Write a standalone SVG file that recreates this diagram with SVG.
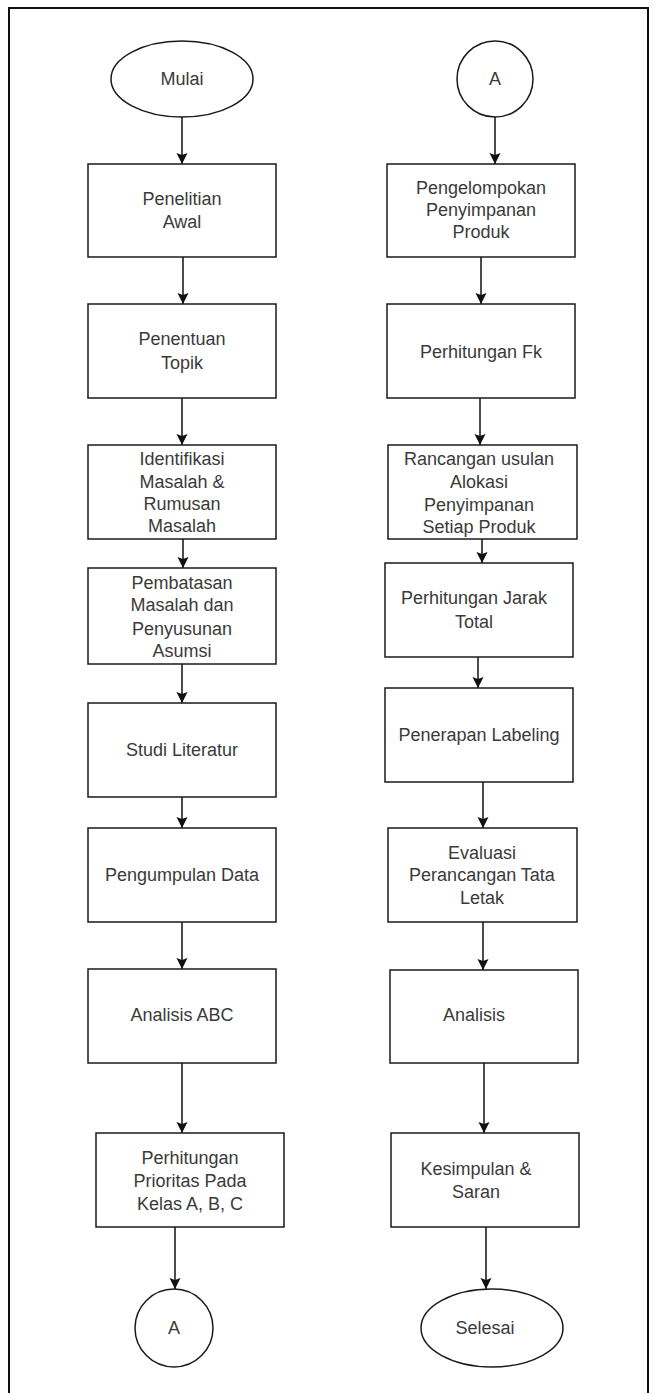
<svg xmlns="http://www.w3.org/2000/svg" width="656" height="1393" viewBox="0 0 656 1393">
<style>
.shape{fill:#fff;stroke:#1a1a1a;stroke-width:1.5}
.lbl{font-family:"Liberation Sans",Arial,sans-serif;font-size:18px;fill:#3a3a3a;text-anchor:middle}
.conn{stroke:#111;stroke-width:1.5;fill:none;marker-end:url(#arr)}
</style>
<defs>
<marker id="arr" markerUnits="userSpaceOnUse" markerWidth="12" markerHeight="12" refX="11" refY="5.5" orient="auto" viewBox="0 0 12 11">
<path d="M0,0 L11,5.5 L0,11 L2,5.5 z" fill="#111"/>
</marker>
</defs>
<rect x="0" y="0" width="656" height="1393" fill="#fff"/>
<rect x="9" y="8" width="639" height="1400" fill="none" stroke="#111" stroke-width="2"/>

<g id="connectors">
<line class="conn" x1="182" y1="117" x2="182" y2="164"/>
<line class="conn" x1="183" y1="257" x2="183" y2="304"/>
<line class="conn" x1="182" y1="398" x2="182" y2="445"/>
<line class="conn" x1="183" y1="539" x2="183" y2="568"/>
<line class="conn" x1="182" y1="664" x2="182" y2="703"/>
<line class="conn" x1="182" y1="797" x2="182" y2="828"/>
<line class="conn" x1="182" y1="922" x2="182" y2="969"/>
<line class="conn" x1="182" y1="1063" x2="182" y2="1133"/>
<line class="conn" x1="175" y1="1227" x2="175" y2="1289"/>
<line class="conn" x1="495" y1="117" x2="495" y2="164"/>
<line class="conn" x1="481" y1="257" x2="481" y2="304"/>
<line class="conn" x1="480" y1="398" x2="480" y2="445"/>
<line class="conn" x1="482" y1="539" x2="482" y2="563"/>
<line class="conn" x1="478" y1="650" x2="478" y2="688"/>
<line class="conn" x1="483" y1="782" x2="483" y2="828"/>
<line class="conn" x1="483" y1="922" x2="483" y2="970"/>
<line class="conn" x1="484" y1="1063" x2="484" y2="1133"/>
<line class="conn" x1="486" y1="1227" x2="486" y2="1289"/>
</g>

<g id="mulai">
<ellipse class="shape" cx="182" cy="79" rx="71" ry="38"/>
<text class="lbl" x="182" y="85">Mulai</text>
</g>
<g id="penelitian-awal">
<rect class="shape" x="88" y="164" width="188" height="93"/>
<text class="lbl" x="182" y="205">Penelitian</text>
<text class="lbl" x="182" y="228">Awal</text>
</g>
<g id="penentuan-topik">
<rect class="shape" x="88" y="304" width="188" height="94"/>
<text class="lbl" x="182" y="345">Penentuan</text>
<text class="lbl" x="182" y="369">Topik</text>
</g>
<g id="identifikasi">
<rect class="shape" x="88" y="445" width="188" height="94"/>
<text class="lbl" x="182" y="465">Identifikasi</text>
<text class="lbl" x="182" y="488">Masalah &amp;</text>
<text class="lbl" x="182" y="510">Rumusan</text>
<text class="lbl" x="182" y="532">Masalah</text>
</g>
<g id="pembatasan">
<rect class="shape" x="88" y="568" width="188" height="96"/>
<text class="lbl" x="182" y="589">Pembatasan</text>
<text class="lbl" x="182" y="611">Masalah dan</text>
<text class="lbl" x="182" y="635">Penyusunan</text>
<text class="lbl" x="182" y="657">Asumsi</text>
</g>
<g id="studi-literatur">
<rect class="shape" x="88" y="703" width="188" height="94"/>
<text class="lbl" x="182" y="756">Studi Literatur</text>
</g>
<g id="pengumpulan-data">
<rect class="shape" x="88" y="828" width="188" height="94"/>
<text class="lbl" x="182" y="881">Pengumpulan Data</text>
</g>
<g id="analisis-abc">
<rect class="shape" x="88" y="969" width="188" height="94"/>
<text class="lbl" x="182" y="1021">Analisis ABC</text>
</g>
<g id="perhitungan-prioritas">
<rect class="shape" x="96" y="1133" width="188" height="94"/>
<text class="lbl" x="190" y="1164">Perhitungan</text>
<text class="lbl" x="190" y="1187">Prioritas Pada</text>
<text class="lbl" x="190" y="1210">Kelas A, B, C</text>
</g>
<g id="connector-a-out">
<circle class="shape" cx="174" cy="1328" r="39"/>
<text class="lbl" x="174" y="1334">A</text>
</g>

<g id="connector-a-in">
<circle class="shape" cx="495" cy="79" r="38"/>
<text class="lbl" x="495" y="85">A</text>
</g>
<g id="pengelompokan">
<rect class="shape" x="387" y="164" width="188" height="93"/>
<text class="lbl" x="481" y="194">Pengelompokan</text>
<text class="lbl" x="481" y="216">Penyimpanan</text>
<text class="lbl" x="481" y="238">Produk</text>
</g>
<g id="perhitungan-fk">
<rect class="shape" x="387" y="304" width="188" height="94"/>
<text class="lbl" x="481" y="358">Perhitungan Fk</text>
</g>
<g id="rancangan">
<rect class="shape" x="388" y="445" width="189" height="94"/>
<text class="lbl" x="479" y="465">Rancangan usulan</text>
<text class="lbl" x="479" y="488">Alokasi</text>
<text class="lbl" x="479" y="511">Penyimpanan</text>
<text class="lbl" x="479" y="533">Setiap Produk</text>
</g>
<g id="perhitungan-jarak">
<rect class="shape" x="385" y="563" width="188" height="94"/>
<text class="lbl" x="474" y="604">Perhitungan Jarak</text>
<text class="lbl" x="474" y="628">Total</text>
</g>
<g id="penerapan-labeling">
<rect class="shape" x="385" y="688" width="188" height="94"/>
<text class="lbl" x="479" y="741">Penerapan Labeling</text>
</g>
<g id="evaluasi">
<rect class="shape" x="388" y="828" width="189" height="94"/>
<text class="lbl" x="482" y="859">Evaluasi</text>
<text class="lbl" x="482" y="881">Perancangan Tata</text>
<text class="lbl" x="482" y="904">Letak</text>
</g>
<g id="analisis">
<rect class="shape" x="390" y="970" width="188" height="93"/>
<text class="lbl" x="474" y="1021">Analisis</text>
</g>
<g id="kesimpulan">
<rect class="shape" x="391" y="1133" width="188" height="94"/>
<text class="lbl" x="476" y="1175">Kesimpulan &amp;</text>
<text class="lbl" x="476" y="1198">Saran</text>
</g>
<g id="selesai">
<ellipse class="shape" cx="492" cy="1328" rx="71" ry="39"/>
<text class="lbl" x="485" y="1334">Selesai</text>
</g>
</svg>
